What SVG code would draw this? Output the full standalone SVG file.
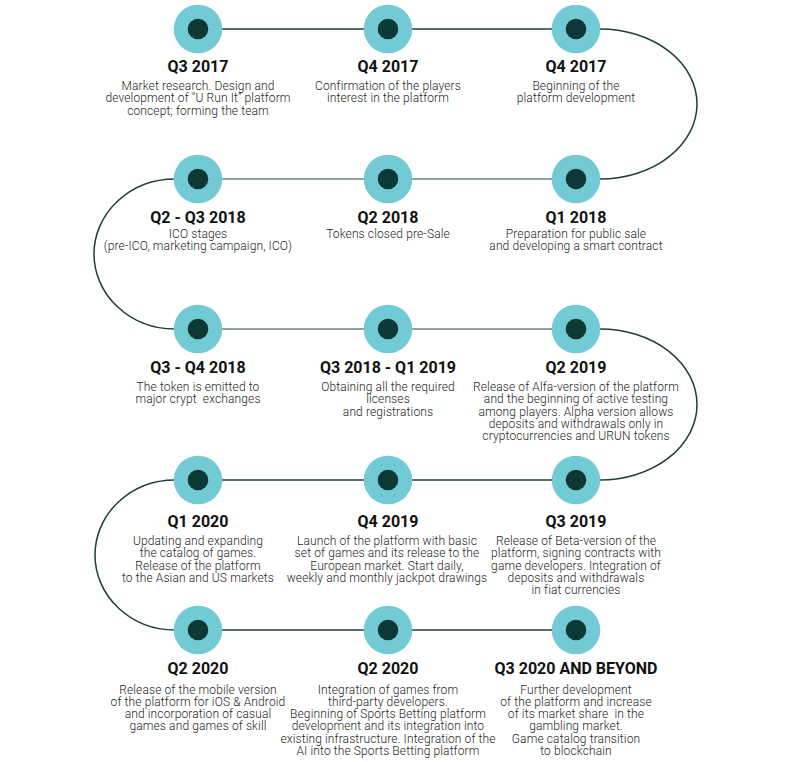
<svg xmlns="http://www.w3.org/2000/svg" width="791" height="762" viewBox="0 0 791 762">
<style>
.outer{fill:#72cbd4}
.inner{fill:#0c3935}
.ln{fill:none;stroke:#1f3e3b;stroke-width:1.5}
.ln2{fill:none;stroke:#6a8381;stroke-width:1.5}
.t{font-family:Roboto,"Liberation Sans",sans-serif;font-size:16px;font-weight:700;fill:#111;text-anchor:middle}
.b{font-family:Roboto,"Liberation Sans",sans-serif;font-size:12px;font-weight:300;fill:#262626;text-anchor:middle;letter-spacing:0.12px}
</style>
<rect width="791" height="762" fill="#fff"/>
<defs>
<g id="dot"><circle class="outer" r="24.3"/><circle class="inner" r="10.3"/></g>
</defs>
<g id="connectors">
<path class="ln" d="M199,29 H600 A97,75 0 0 1 600,179"/>
<path class="ln2" d="M600,179 H175"/>
<path class="ln" d="M175,179 A81,75 0 0 0 175,329"/>
<path class="ln2" d="M175,329 H600"/>
<path class="ln" d="M600,329 A97,75.5 0 0 1 600,480 H175 A80,75 0 0 0 175,630 H577"/>
</g>
<g id="n1"><use href="#dot" x="198" y="29"/>
<text class="t" x="198" y="72">Q3 2017</text>
<text class="b" x="198" y="90">Market research. Design and</text>
<text class="b" x="198" y="102.3">development of "U Run It" platform</text>
<text class="b" x="198" y="114.5">concept; forming the team</text></g>
<g id="n2"><use href="#dot" x="388" y="29"/>
<text class="t" x="388" y="72">Q4 2017</text>
<text class="b" x="388" y="90">Confirmation of the players</text>
<text class="b" x="388" y="102.3">interest in the platform</text></g>
<g id="n3"><use href="#dot" x="576" y="29"/>
<text class="t" x="576" y="72">Q4 2017</text>
<text class="b" x="576" y="90">Beginning of the</text>
<text class="b" x="576" y="102.3">platform development</text></g>
<g id="n4"><use href="#dot" x="198" y="179"/>
<text class="t" x="198" y="222.5">Q2 - Q3 2018</text>
<text class="b" x="198" y="238">ICO stages</text>
<text class="b" x="198" y="250">(pre-ICO, marketing campaign, ICO)</text></g>
<g id="n5"><use href="#dot" x="388" y="179"/>
<text class="t" x="388" y="222.5">Q2 2018</text>
<text class="b" x="388" y="238">Tokens closed pre-Sale</text></g>
<g id="n6"><use href="#dot" x="576" y="179"/>
<text class="t" x="576" y="222.5">Q1 2018</text>
<text class="b" x="576" y="238">Preparation for public sale</text>
<text class="b" x="576" y="250">and developing a smart contract</text></g>
<g id="n7"><use href="#dot" x="198" y="329"/>
<text class="t" x="198" y="372.7">Q3 - Q4 2018</text>
<text class="b" x="198" y="391">The token is emitted to</text>
<text class="b" x="198" y="403.3" xml:space="preserve">major crypt  exchanges</text></g>
<g id="n8"><use href="#dot" x="388" y="329"/>
<text class="t" x="388" y="372.7">Q3 2018 - Q1 2019</text>
<text class="b" x="388" y="391">Obtaining all the required</text>
<text class="b" x="388" y="403.3">licenses</text>
<text class="b" x="388" y="415.5">and registrations</text></g>
<g id="n9"><use href="#dot" x="576" y="329"/>
<text class="t" x="576" y="372.7">Q2 2019</text>
<text class="b" x="576" y="391">Release of Alfa-version of the platform</text>
<text class="b" x="576" y="403.3">and the beginning of active testing</text>
<text class="b" x="576" y="415.5">among players. Alpha version allows</text>
<text class="b" x="576" y="427.8">deposits and withdrawals only in</text>
<text class="b" x="576" y="440">cryptocurrencies and URUN tokens</text></g>
<g id="n10"><use href="#dot" x="198" y="480"/>
<text class="t" x="198" y="527">Q1 2020</text>
<text class="b" x="198" y="545">Updating and expanding</text>
<text class="b" x="198" y="557.3">the catalog of games.</text>
<text class="b" x="198" y="569.5">Release of the platform</text>
<text class="b" x="198" y="581.8">to the Asian and US markets</text></g>
<g id="n11"><use href="#dot" x="388" y="480"/>
<text class="t" x="388" y="527">Q4 2019</text>
<text class="b" x="387" y="545">Launch of the platform with basic</text>
<text class="b" x="387" y="557.3">set of games and its release to the</text>
<text class="b" x="387" y="569.5">European market. Start daily,</text>
<text class="b" x="387" y="581.8">weekly and monthly jackpot drawings</text></g>
<g id="n12"><use href="#dot" x="576" y="480"/>
<text class="t" x="576" y="527">Q3 2019</text>
<text class="b" x="576" y="545">Release of Beta-version of the</text>
<text class="b" x="576" y="557.3">platform, signing contracts with</text>
<text class="b" x="576" y="569.5">game developers. Integration of</text>
<text class="b" x="576" y="581.8">deposits and withdrawals</text>
<text class="b" x="576" y="594">in fiat currencies</text></g>
<g id="n13"><use href="#dot" x="198" y="630"/>
<text class="t" x="198" y="674">Q2 2020</text>
<text class="b" x="198" y="693.5">Release of the mobile version</text>
<text class="b" x="198" y="705.8">of the platform for iOS &amp; Android</text>
<text class="b" x="198" y="718">and incorporation of casual</text>
<text class="b" x="198" y="730.3">games and games of skill</text></g>
<g id="n14"><use href="#dot" x="388" y="630"/>
<text class="t" x="388" y="674">Q2 2020</text>
<text class="b" x="388" y="693.5">Integration of games from</text>
<text class="b" x="388" y="705.8">third-party developers.</text>
<text class="b" x="388" y="718">Beginning of Sports Betting platform</text>
<text class="b" x="388" y="730.3">development and its integration into</text>
<text class="b" x="388" y="742.5">existing infrastructure. Integration of the</text>
<text class="b" x="388" y="754.8">AI into the Sports Betting platform</text></g>
<g id="n15"><use href="#dot" x="576" y="630"/>
<text class="t" x="576" y="674">Q3 2020 AND BEYOND</text>
<text class="b" x="576" y="693.5">Further development</text>
<text class="b" x="576" y="705.8">of the platform and increase</text>
<text class="b" x="576" y="718" xml:space="preserve">of its market share  in the</text>
<text class="b" x="576" y="730.3">gambling market.</text>
<text class="b" x="576" y="742.5">Game catalog transition</text>
<text class="b" x="576" y="754.8">to blockchain</text></g>
</svg>
